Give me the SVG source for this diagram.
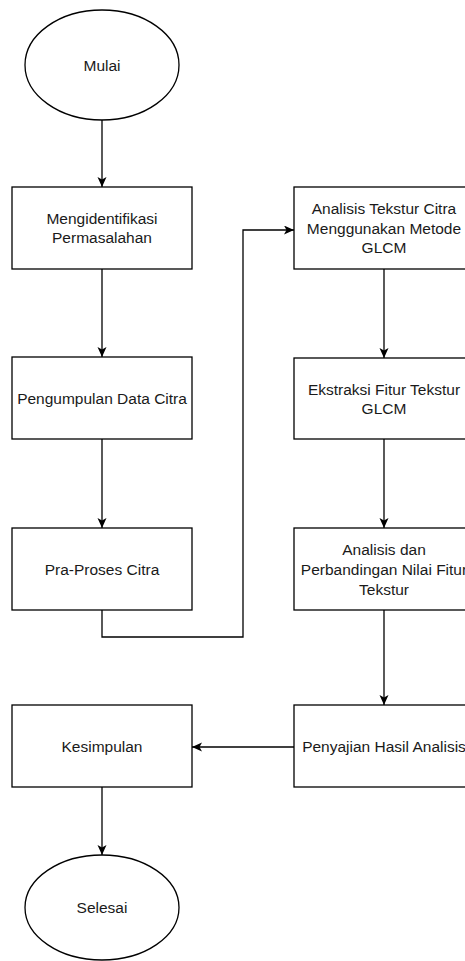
<svg xmlns="http://www.w3.org/2000/svg" width="465" height="961" viewBox="0 0 465 961">
<style>
.n{fill:#fff;stroke:#000;stroke-width:1.3}
.t{font-family:"Liberation Sans",Arial,Helvetica,sans-serif;font-size:15.5px;fill:#1a1a1a;text-anchor:middle}
.c{fill:none;stroke:#000;stroke-width:1.3}
</style>
<defs>
<marker id="a" markerUnits="userSpaceOnUse" markerWidth="11" markerHeight="10" refX="10" refY="4.5" orient="auto" viewBox="0 0 11 10">
<path d="M10,4.5 L0,0 L2.5,4.5 L0,9 Z" fill="#000"/>
</marker>
</defs>
<rect width="465" height="961" fill="#fff"/>
<g id="connectors">
<path class="c" d="M102,120 L102,187" marker-end="url(#a)"/>
<path class="c" d="M102,269 L102,357" marker-end="url(#a)"/>
<path class="c" d="M102,439 L102,528" marker-end="url(#a)"/>
<path class="c" d="M102,610 L102,637 L243,637 L243,230 L294,230" marker-end="url(#a)"/>
<path class="c" d="M384,269 L384,358" marker-end="url(#a)"/>
<path class="c" d="M384,439 L384,528" marker-end="url(#a)"/>
<path class="c" d="M384,610 L384,705" marker-end="url(#a)"/>
<path class="c" d="M294,747 L192,747" marker-end="url(#a)"/>
<path class="c" d="M102,787 L102,855" marker-end="url(#a)"/>
</g>
<g id="mulai">
<ellipse class="n" cx="102" cy="65" rx="77" ry="55"/>
<text class="t" x="102" y="70.5">Mulai</text>
</g>
<g id="mengidentifikasi">
<rect class="n" x="12" y="187" width="180" height="82"/>
<text class="t" x="102" y="223.5">Mengidentifikasi</text>
<text class="t" x="102" y="243">Permasalahan</text>
</g>
<g id="pengumpulan">
<rect class="n" x="12" y="357" width="180" height="82"/>
<text class="t" x="102" y="403.5">Pengumpulan Data Citra</text>
</g>
<g id="praproses">
<rect class="n" x="12" y="528" width="180" height="82"/>
<text class="t" x="102" y="574.5">Pra-Proses Citra</text>
</g>
<g id="analisis-tekstur">
<rect class="n" x="294" y="187" width="180" height="82"/>
<text class="t" x="384" y="214">Analisis Tekstur Citra</text>
<text class="t" x="384" y="233.5">Menggunakan Metode</text>
<text class="t" x="384" y="253">GLCM</text>
</g>
<g id="ekstraksi">
<rect class="n" x="294" y="358" width="180" height="81"/>
<text class="t" x="384" y="394.5">Ekstraksi Fitur Tekstur</text>
<text class="t" x="384" y="414">GLCM</text>
</g>
<g id="perbandingan">
<rect class="n" x="294" y="528" width="180" height="82"/>
<text class="t" x="384" y="554.5">Analisis dan</text>
<text class="t" x="384" y="574.5">Perbandingan Nilai Fitur</text>
<text class="t" x="384" y="594.5">Tekstur</text>
</g>
<g id="penyajian">
<rect class="n" x="294" y="705" width="180" height="82"/>
<text class="t" x="384" y="751.5">Penyajian Hasil Analisis</text>
</g>
<g id="kesimpulan">
<rect class="n" x="12" y="705" width="180" height="82"/>
<text class="t" x="102" y="751.5">Kesimpulan</text>
</g>
<g id="selesai">
<ellipse class="n" cx="102" cy="907.5" rx="77" ry="52.5"/>
<text class="t" x="102" y="913">Selesai</text>
</g>
</svg>
